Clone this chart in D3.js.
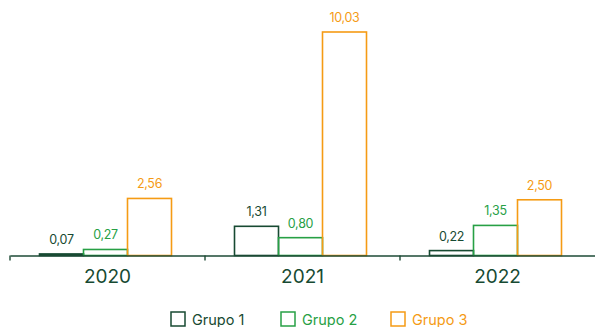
<!DOCTYPE html>
<html>
<head>
<meta charset="utf-8">
<script src="https://cdn.jsdelivr.net/npm/d3@7/dist/d3.min.js"></script>
<style>
  body { margin: 0; background: #fff; }
  svg { display: block; font-family: 'Inter', 'Open Sans', sans-serif; }
</style>
</head>
<body>
<script>
const years = ['2020', '2021', '2022'];
const groups = ['Grupo 1', 'Grupo 2', 'Grupo 3'];
const grupo1 = [0.07, 1.31, 0.22];
const grupo2 = [0.27, 0.80, 1.35];
const grupo3 = [2.56, 10.03, 2.50];
const colors = ['#174a32', '#27a045', '#f59b14'];

const width = 595;
const height = 327;
const baseline = 255.5;

const series = [grupo1, grupo2, grupo3];
const rows = [];
years.forEach((y, i) => {
    groups.forEach((g, j) => rows.push({ year: y, group: g, value: series[j][i], idx: j }));
});

const fmt = v => d3.format('.2f')(v).replace('.', ',');

const xScale = d3.scaleBand().domain(years).range([10, 595]).paddingInner(0).paddingOuter(0);
const innerScale = d3.scaleBand().domain(groups).range([0, 132]);
const yScale = d3.scaleLinear().domain([0, 10.03]).range([baseline, 32]);

const svg = d3.select('body')
    .append('svg')
    .attr('width', width)
    .attr('height', height);

// Bars
svg.selectAll('rect.bar')
    .data(rows)
    .enter()
    .append('rect')
    .attr('class', 'bar')
    .attr('x', d => xScale(d.year) + xScale.bandwidth() / 2 - 68 + innerScale(d.group))
    .attr('y', d => yScale(d.value))
    .attr('width', innerScale.bandwidth())
    .attr('height', d => baseline - yScale(d.value))
    .attr('fill', 'none')
    .attr('stroke', d => colors[d.idx])
    .attr('stroke-width', 1.6);

// Value labels
svg.selectAll('text.val')
    .data(rows)
    .enter()
    .append('text')
    .attr('class', 'val')
    .attr('x', d => xScale(d.year) + xScale.bandwidth() / 2 - 68 + innerScale(d.group) + innerScale.bandwidth() / 2)
    .attr('y', d => yScale(d.value) - 10)
    .attr('text-anchor', 'middle')
    .attr('font-size', 12.5)
    .attr('letter-spacing', -0.3)
    .attr('fill', d => colors[d.idx])
    .text(d => fmt(d.value));

// X axis
const xAxis = svg.append('g')
    .attr('transform', `translate(0, ${baseline})`)
    .call(d3.axisBottom(xScale).tickSize(0).tickPadding(14));
xAxis.select('.domain').attr('stroke', '#1d4a36').attr('stroke-width', 1.4);
xAxis.selectAll('text')
    .attr('font-size', 19)
    .attr('fill', '#174a32')
    .attr('font-family', "'Inter', 'Open Sans', sans-serif");

// Tick marks at band edges
svg.selectAll('line.sep')
    .data(years)
    .enter()
    .append('line')
    .attr('class', 'sep')
    .attr('x1', d => xScale(d))
    .attr('x2', d => xScale(d))
    .attr('y1', baseline)
    .attr('y2', baseline + 5)
    .attr('stroke', '#1d4a36')
    .attr('stroke-width', 1.4);

// Legend
const legendX = [171, 281, 391];
const legend = svg.selectAll('g.legend')
    .data(groups)
    .enter()
    .append('g')
    .attr('class', 'legend')
    .attr('transform', (d, i) => `translate(${legendX[i]}, 312)`);

legend.append('rect')
    .attr('width', 14)
    .attr('height', 14)
    .attr('fill', 'none')
    .attr('stroke', (d, i) => colors[i])
    .attr('stroke-width', 1.5);

legend.append('text')
    .attr('x', 21)
    .attr('y', 12.5)
    .attr('font-size', 14.5)
    .attr('fill', (d, i) => colors[i])
    .text(d => d);
</script>
</body>
</html>
